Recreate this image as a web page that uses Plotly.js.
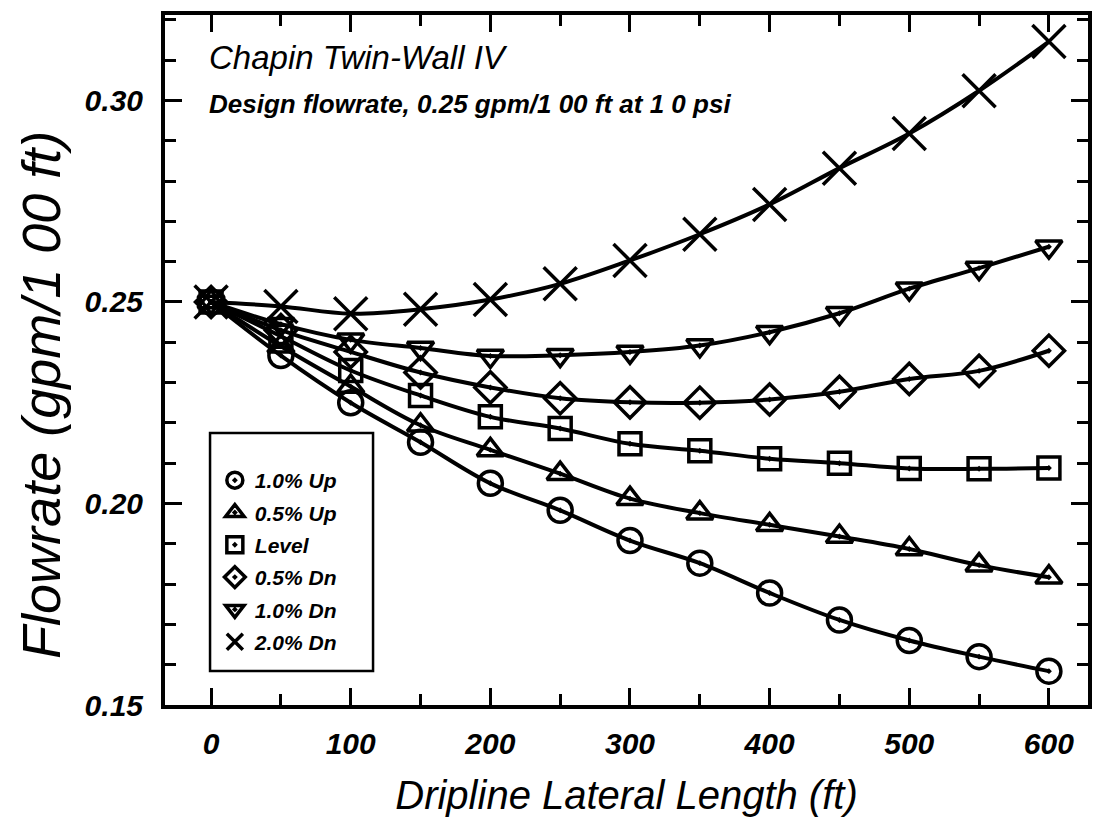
<!DOCTYPE html>
<html>
<head>
<meta charset="utf-8">
<script src="https://cdn.plot.ly/plotly-3.0.1.min.js"></script>
<style>html,body{margin:0;padding:0;background:#fff;}#chart{width:1094px;height:836px;}</style>
</head>
<body>
<div id="chart"></div>
<script>
// Dripline lateral length (ft)
const lengthFt = [0, 50, 100, 150, 200, 250, 300, 350, 400, 450, 500, 550, 600];
// Flowrate (gpm/100 ft) for each slope
const up10  = [0.250, 0.2367, 0.2250, 0.2152, 0.2050, 0.1983, 0.1908, 0.1852, 0.1778, 0.1711, 0.1660, 0.1620, 0.1584];
const up05  = [0.250, 0.2390, 0.2290, 0.2194, 0.2133, 0.2074, 0.2012, 0.1976, 0.1947, 0.1918, 0.1887, 0.1847, 0.1817];
const level = [0.250, 0.2415, 0.2330, 0.2268, 0.2215, 0.2186, 0.2148, 0.2131, 0.2111, 0.2100, 0.2087, 0.2086, 0.2088];
const dn05  = [0.250, 0.2430, 0.2376, 0.2325, 0.2288, 0.2261, 0.2251, 0.2250, 0.2258, 0.2277, 0.2309, 0.2329, 0.2379];
const dn10  = [0.250, 0.2445, 0.2406, 0.2386, 0.2366, 0.2368, 0.2376, 0.2392, 0.2425, 0.2472, 0.2533, 0.2584, 0.2637];
const dn20  = [0.250, 0.2489, 0.2471, 0.2482, 0.2506, 0.2545, 0.2603, 0.2668, 0.2742, 0.2832, 0.2918, 0.3024, 0.3146];

const seriesNames = ["1.0% Up", "0.5% Up", "Level", "0.5% Dn", "1.0% Dn", "2.0% Dn"];
const seriesValues = [up10, up05, level, dn05, dn10, dn20];
const symbols = ["circle-open-dot", "triangle-up-open-dot", "square-open-dot", "diamond-open-dot", "triangle-down-open-dot", "x-thin-open"];
const sizes = [24, 23, 22, 24, 23, 33];

const FONT = "Liberation Sans, Arial, Helvetica, sans-serif";
const traces = [];
seriesValues.forEach((vals) => {
  traces.push({x: lengthFt, y: vals, mode: "lines", type: "scatter", showlegend: false, hoverinfo: "skip",
    line: {color: "#000", width: 4, shape: "spline", smoothing: 1}});
});
seriesValues.forEach((vals, i) => {
  traces.push({x: lengthFt, y: vals, mode: "markers", type: "scatter", name: seriesNames[i], legendgroup: "g" + i,
    marker: {symbol: symbols[i], size: sizes[i], color: "#000", line: {color: "#000", width: 3.5}}});
});

const axisCommon = {
  showline: true, linecolor: "#000", linewidth: 4, mirror: "ticks",
  ticks: "inside", ticklen: 17, tickwidth: 3, tickcolor: "#000",
  showgrid: false, zeroline: false,
  tickfont: {family: FONT, size: 30, color: "#000", weight: "bold", style: "italic"}
};

const layout = {
  width: 1094, height: 836,
  margin: {l: 165, r: 6, t: 15, b: 131},
  paper_bgcolor: "#fff", plot_bgcolor: "#fff",
  showlegend: true,
  xaxis: Object.assign({}, axisCommon, {
    range: [-33, 628], tickvals: [0, 100, 200, 300, 400, 500, 600],
    minor: {tickvals: [50, 150, 250, 350, 450, 550], ticks: "inside", ticklen: 11, tickwidth: 3, tickcolor: "#000"},
    ticklabelstandoff: 9,
    title: {text: "Dripline Lateral Length (ft)", font: {family: FONT, size: 40, color: "#000", style: "italic"}, standoff: 23}
  }),
  yaxis: Object.assign({}, axisCommon, {
    range: [0.15, 0.3212], tickvals: [0.15, 0.20, 0.25, 0.30], ticktext: ["0.15", "0.20", "0.25", "0.30"],
    minor: {dtick: 0.01, ticks: "inside", ticklen: 11, tickwidth: 3, tickcolor: "#000"},
    ticklabelstandoff: 12
  }),
  legend: {x: 0.054, y: 0.355, xanchor: "left", yanchor: "top", bgcolor: "rgba(0,0,0,0)", borderwidth: 0,
    tracegroupgap: 2, itemsizing: "trace",
    font: {family: FONT, size: 21, color: "#000", weight: "bold", style: "italic"}},
  shapes: [{type: "rect", xref: "paper", yref: "paper", x0: 0.0488, x1: 0.2254, y0: 0.0493, y1: 0.3942,
    line: {color: "#000", width: 2.5}, fillcolor: "#fff", layer: "above"}],
  annotations: [
    {xref: "paper", yref: "paper", x: 0.045, y: 0.938, xanchor: "left", yanchor: "middle", showarrow: false,
      text: "Chapin Twin-Wall IV", font: {family: FONT, size: 33, color: "#000", style: "italic"}},
    {xref: "paper", yref: "paper", x: 0.045, y: 0.871, xanchor: "left", yanchor: "middle", showarrow: false,
      text: "Design flowrate, 0.25 gpm/1 00 ft at 1 0 psi", font: {family: FONT, size: 26, color: "#000", weight: "bold", style: "italic"}},
    {xref: "paper", yref: "paper", x: -0.135, y: 0.45, xanchor: "center", yanchor: "middle", showarrow: false, textangle: -90,
      text: "Flowrate (gpm/1 00 ft)", font: {family: FONT, size: 54, color: "#000", style: "italic"}}
  ]
};

Plotly.newPlot("chart", traces, layout, {displayModeBar: false, staticPlot: true});
</script>
</body>
</html>
